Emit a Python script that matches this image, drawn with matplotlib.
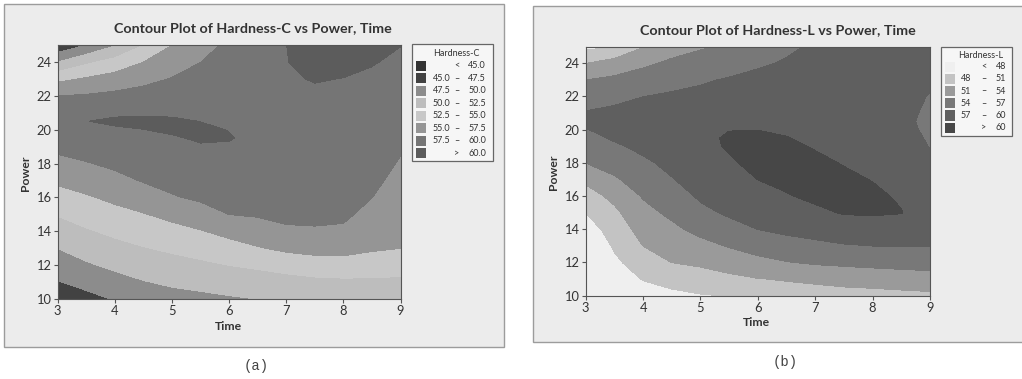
import numpy as np
import matplotlib.pyplot as plt
from matplotlib.patches import Rectangle

W, H = 1022, 379

time = [3, 3.5, 4, 4.5, 5, 5.5, 6, 6.5, 7, 7.5, 8, 8.5, 9]
power = [10, 11, 12, 13, 14, 15, 16, 17, 18, 19, 19.5, 20, 20.5, 21, 22, 23, 24, 25]

# Hardness-C: one list per time value, power 10 -> 25
hard_c = [
    [46.05, 47.37, 48.68, 50.02, 51.32, 52.64, 54.03, 55.42, 56.81, 58.08, 58.67, 59.25, 59.55, 58.74, 57.48, 54.37, 49.98, 45.5],
    [46.76, 48.24, 49.71, 51.0, 52.25, 53.5, 54.75, 56.05, 57.37, 58.46, 58.99, 59.52, 59.97, 59.19, 57.72, 55.26, 52.0, 47.5],
    [47.65, 49.12, 50.5, 51.75, 53.0, 54.25, 55.53, 56.84, 57.95, 58.86, 59.32, 59.77, 60.3, 59.68, 58.06, 56.02, 53.38, 49.8],
    [48.63, 49.88, 51.13, 52.38, 53.63, 54.88, 56.32, 57.66, 58.44, 59.22, 59.61, 59.98, 60.38, 59.75, 58.39, 56.85, 54.98, 52.45],
    [49.13, 50.38, 51.63, 52.89, 54.21, 55.67, 57.33, 58.12, 58.8, 59.49, 59.83, 60.25, 60.25, 59.73, 58.67, 57.61, 56.32, 54.98],
    [49.41, 50.72, 52.04, 53.43, 54.86, 56.61, 57.84, 58.51, 59.19, 59.86, 60.2, 60.3, 59.97, 59.61, 58.9, 58.2, 57.48, 56.5],
    [49.72, 51.11, 52.52, 54.06, 55.71, 57.52, 58.07, 58.64, 59.21, 59.79, 60.12, 59.95, 59.7, 59.5, 59.0, 58.6, 58.3, 58.0],
    [50.02, 51.39, 52.88, 54.81, 56.55, 57.7, 58.15, 58.6, 59.05, 59.4, 59.5, 59.45, 59.35, 59.25, 59.1, 59.1, 59.2, 59.4],
    [50.15, 51.62, 53.41, 55.5, 57.17, 58.0, 58.5, 58.9, 59.2, 59.35, 59.4, 59.4, 59.4, 59.45, 59.6, 59.8, 59.95, 59.99],
    [50.6, 51.91, 53.88, 55.81, 57.28, 58.0, 58.5, 58.85, 59.1, 59.25, 59.3, 59.35, 59.4, 59.5, 59.7, 60.1, 60.5, 60.8],
    [50.7, 52.03, 54.05, 55.79, 57.11, 57.95, 58.4, 58.75, 59.0, 59.15, 59.2, 59.25, 59.3, 59.4, 59.6, 59.97, 60.4, 60.8],
    [50.8, 52.06, 53.8, 55.29, 56.03, 56.76, 57.52, 58.0, 58.4, 58.7, 58.8, 58.9, 59.0, 59.1, 59.35, 59.7, 60.12, 60.6],
    [50.9, 52.04, 53.44, 55.02, 55.46, 55.93, 56.39, 56.85, 57.31, 57.73, 57.92, 58.12, 58.31, 58.5, 58.88, 59.27, 59.65, 60.04],
]

# Hardness-L
hard_l = [
    [40.5, 42.0, 43.5, 45.0, 46.4, 48.07, 49.74, 51.6, 54.02, 55.44, 56.16, 56.88, 57.5, 57.2, 55.67, 53.98, 50.98, 47.25],
    [45.4, 46.4, 47.4, 48.4, 49.4, 50.4, 51.75, 53.63, 55.17, 56.63, 57.31, 57.93, 58.25, 57.6, 56.31, 54.6, 52.23, 47.98],
    [46.71, 48.14, 49.57, 51.02, 52.07, 53.14, 54.23, 55.4, 56.57, 57.59, 58.05, 58.5, 58.6, 57.94, 56.98, 55.33, 53.48, 50.87],
    [47.25, 49.13, 51.02, 52.2, 53.4, 54.58, 55.73, 56.88, 57.62, 58.31, 58.66, 59.0, 58.59, 58.18, 57.37, 56.11, 54.49, 52.86],
    [47.81, 49.69, 51.5, 53.17, 54.79, 56.37, 57.38, 58.0, 58.65, 59.28, 59.6, 59.21, 58.82, 58.42, 57.63, 56.7, 55.2, 53.7],
    [48.11, 50.33, 52.31, 54.19, 56.06, 57.38, 58.15, 58.92, 59.69, 60.25, 60.2, 59.96, 59.46, 59.01, 58.12, 57.22, 55.9, 54.44],
    [49.0, 50.9, 53.19, 55.18, 57.02, 58.0, 59.0, 60.02, 60.67, 60.67, 60.33, 59.98, 59.6, 59.2, 58.4, 57.6, 56.7, 55.5],
    [49.6, 51.21, 53.87, 55.97, 57.57, 58.7, 59.83, 60.58, 61.15, 60.42, 60.07, 59.75, 59.43, 59.12, 58.49, 57.85, 57.22, 56.6],
    [49.8, 51.54, 54.36, 56.39, 58.02, 59.49, 60.51, 61.3, 60.49, 59.83, 59.62, 59.41, 59.2, 58.99, 58.57, 58.15, 57.73, 57.3],
    [50.0, 51.9, 54.64, 56.79, 58.59, 60.18, 61.1, 60.46, 59.88, 59.61, 59.48, 59.34, 59.21, 59.07, 58.81, 58.54, 58.27, 58.0],
    [50.0, 52.24, 54.86, 57.02, 58.79, 60.28, 60.46, 59.92, 59.73, 59.54, 59.44, 59.35, 59.25, 59.16, 58.97, 58.78, 58.59, 58.4],
    [50.2, 52.53, 55.04, 57.14, 58.57, 60.1, 59.7, 59.2, 58.6, 58.0, 57.7, 57.55, 57.5, 57.55, 57.7, 58.0, 58.3, 58.5],
    [50.4, 52.78, 55.18, 57.09, 57.69, 58.3, 58.35, 57.86, 57.37, 56.93, 56.79, 56.64, 56.5, 56.64, 56.89, 57.37, 57.98, 58.6],
]

levels_c = [45.0, 47.5, 50.0, 52.5, 55.0, 57.5, 60.0]
colors_c = ['#333333', '#424242', '#8c8c8c', '#bdbdbd', '#c7c7c7', '#959595', '#757575', '#5c5c5c']
levels_l = [48, 51, 54, 57, 60]
colors_l = ['#efefef', '#c3c3c3', '#9a9a9a', '#787878', '#5f5f5f', '#474747']

fig = plt.figure(figsize=(W / 100, H / 100), dpi=100)
fig.patch.set_facecolor('white')
plt.rcParams['font.family'] = ['Lato', 'DejaVu Sans']


def box(x0, y0, x1, y1):
    # pixel box (top-left origin) -> figure fraction rect
    return [x0 / W, 1 - y1 / H, (x1 - x0) / W, (y1 - y0) / H]


def ftext(x, y, s, **kw):
    fig.text(x / W, 1 - y / H, s, **kw)


def panel(frame, ax_box, leg_box, z, levels, colors, title, title_xy, legend_title,
          fmt, cols, power_xy, time_xy, caption, caption_xy):
    fx = box(*frame)
    fig.add_artist(Rectangle((fx[0], fx[1]), fx[2], fx[3], transform=fig.transFigure,
                             facecolor='#ececec', edgecolor='#9c9c9c', lw=1.0, zorder=0))
    ax = fig.add_axes(box(*ax_box))
    zz = np.array(z).T
    ax.contourf(time, power, zz, levels=[0] + levels + [100], colors=colors)
    ax.set_xlim(3, 9)
    ax.set_ylim(10, 25)
    ax.set_xticks(range(3, 10))
    ax.set_yticks(range(10, 25, 2))
    ax.tick_params(direction='out', length=3, width=0.8, color='#555555',
                   labelsize=9.3, labelcolor='#333333', pad=1.5)
    for s in ax.spines.values():
        s.set_color('#555555')
        s.set_linewidth(0.8)
    ftext(*title_xy, title, ha='center', va='center', fontsize=10.3,
          fontweight='bold', color='#333333')
    ftext(*power_xy, 'Power', ha='center', va='center', rotation=90, fontsize=8.8,
          fontweight='bold', color='#333333')
    ftext(*time_xy, 'Time', ha='center', va='center', fontsize=8.8,
          fontweight='bold', color='#333333')
    ftext(*caption_xy, caption, ha='center', va='center', fontsize=10,
          family='Liberation Mono', color='#444444')

    # legend
    lx0, ly0, lx1, ly1 = leg_box
    lb = box(*leg_box)
    fig.add_artist(Rectangle((lb[0], lb[1]), lb[2], lb[3], transform=fig.transFigure,
                             facecolor='#f6f6f6', edgecolor='#666666', lw=0.9, zorder=1))
    ftext((lx0 + lx1) / 2 + 4, ly0 + 9, legend_title, ha='center', va='center',
          fontsize=6.5, color='#333333', zorder=2)
    sq_x, num_x, dash_x, right_x, row0, pitch = cols
    n = len(colors)
    for i in range(n):
        y = row0 + i * pitch
        r = box(sq_x, y - 5, sq_x + 10, y + 5)
        fig.add_artist(Rectangle((r[0], r[1]), r[2], r[3], transform=fig.transFigure,
                                 facecolor=colors[i], edgecolor='none', zorder=2))
        kw = dict(va='center', fontsize=6.5, color='#333333', zorder=3)
        if i == 0:
            ftext(dash_x, y, '<', ha='center', **kw)
            ftext(right_x, y, fmt.format(levels[0]), ha='right', **kw)
        elif i == n - 1:
            ftext(dash_x, y, '>', ha='center', **kw)
            ftext(right_x, y, fmt.format(levels[-1]), ha='right', **kw)
        else:
            ftext(num_x, y, fmt.format(levels[i - 1]), ha='left', **kw)
            ftext(dash_x, y, '\u2013', ha='center', **kw)
            ftext(right_x, y, fmt.format(levels[i]), ha='right', **kw)
    return ax


panel((4, 3.5, 504, 347), (57.7, 45, 400.5, 299), (412, 44, 493, 161),
      hard_c, levels_c, colors_c, 'Contour Plot of Hardness-C vs Power, Time', (253, 28.5),
      'Hardness-C', '{:.1f}', (416, 433, 457, 486, 65.7, 12.5),
      (25, 173), (228.7, 326), '(a)', (256, 366))

panel((533, 6, 1030, 342), (585.7, 46.7, 930, 295.7), (941, 46.7, 1012, 136),
      hard_l, levels_l, colors_l, 'Contour Plot of Hardness-L vs Power, Time', (778, 30),
      'Hardness-L', '{:d}', (945, 961, 984, 1006, 66.7, 12.2),
      (553, 172), (756.7, 322), '(b)', (785, 362))

fig.savefig('out.png', dpi=100)
